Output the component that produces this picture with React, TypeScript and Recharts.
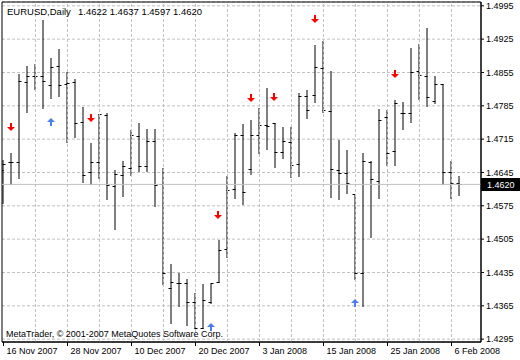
import React from 'react'
import {
  ComposedChart, Bar, Scatter, XAxis, YAxis, CartesianGrid, ReferenceLine, ReferenceArea,
} from 'recharts'

// daily EURUSD bars, 16 Nov 2007 .. 7 Feb 2008
const dates = [
  '16 Nov 2007', '19 Nov 2007', '20 Nov 2007', '21 Nov 2007', '22 Nov 2007', '23 Nov 2007',
  '26 Nov 2007', '27 Nov 2007', '28 Nov 2007', '29 Nov 2007', '30 Nov 2007', '3 Dec 2007',
  '4 Dec 2007', '5 Dec 2007', '6 Dec 2007', '7 Dec 2007', '10 Dec 2007', '11 Dec 2007',
  '12 Dec 2007', '13 Dec 2007', '14 Dec 2007', '17 Dec 2007', '18 Dec 2007', '19 Dec 2007',
  '20 Dec 2007', '21 Dec 2007', '24 Dec 2007', '26 Dec 2007', '27 Dec 2007', '28 Dec 2007',
  '31 Dec 2007', '2 Jan 2008', '3 Jan 2008', '4 Jan 2008', '7 Jan 2008', '8 Jan 2008',
  '9 Jan 2008', '10 Jan 2008', '11 Jan 2008', '14 Jan 2008', '15 Jan 2008', '16 Jan 2008',
  '17 Jan 2008', '18 Jan 2008', '21 Jan 2008', '22 Jan 2008', '23 Jan 2008', '24 Jan 2008',
  '25 Jan 2008', '28 Jan 2008', '29 Jan 2008', '30 Jan 2008', '31 Jan 2008', '1 Feb 2008',
  '4 Feb 2008', '5 Feb 2008', '6 Feb 2008', '7 Feb 2008',
]

const opens = [
  1.4650, 1.4667, 1.4665, 1.4833, 1.4846, 1.4846, 1.4827, 1.4867, 1.4829, 1.4833,
  1.4749, 1.4646, 1.4667, 1.4764, 1.4615, 1.4638, 1.4654, 1.4720, 1.4657, 1.4709,
  1.4619, 1.4402, 1.4411, 1.4411, 1.4373, 1.4318, 1.4373, 1.4415, 1.4484, 1.4610,
  1.4722, 1.4652, 1.4722, 1.4743, 1.4747, 1.4686, 1.4707, 1.4661, 1.4804, 1.4806,
  1.4863, 1.4774, 1.4650, 1.4642, 1.4598, 1.4432, 1.4667, 1.4627, 1.4760, 1.4690,
  1.4768, 1.4768, 1.4858, 1.4846, 1.4793, 1.4829, 1.4646, 1.4622,
]
const highs = [
  1.4671, 1.4686, 1.4852, 1.4869, 1.4873, 1.4966, 1.4886, 1.4905, 1.4856, 1.4842,
  1.4783, 1.4707, 1.4768, 1.4770, 1.4650, 1.4669, 1.4734, 1.4749, 1.4736, 1.4736,
  1.4654, 1.4453, 1.4434, 1.4421, 1.4392, 1.4411, 1.4411, 1.4503, 1.4638, 1.4728,
  1.4747, 1.4755, 1.4781, 1.4823, 1.4749, 1.4741, 1.4741, 1.4812, 1.4818, 1.4913,
  1.4921, 1.4858, 1.4713, 1.4692, 1.4600, 1.4686, 1.4669, 1.4778, 1.4776, 1.4797,
  1.4793, 1.4907, 1.4915, 1.4949, 1.4848, 1.4831, 1.4669, 1.4637,
]
const lows = [
  1.4581, 1.4621, 1.4633, 1.4772, 1.4821, 1.4781, 1.4802, 1.4806, 1.4709, 1.4720,
  1.4625, 1.4621, 1.4633, 1.4589, 1.4526, 1.4596, 1.4640, 1.4648, 1.4648, 1.4575,
  1.4411, 1.4329, 1.4364, 1.4324, 1.4318, 1.4318, 1.4371, 1.4415, 1.4467, 1.4591,
  1.4579, 1.4642, 1.4686, 1.4694, 1.4657, 1.4675, 1.4636, 1.4638, 1.4760, 1.4793,
  1.4772, 1.4593, 1.4589, 1.4602, 1.4421, 1.4364, 1.4509, 1.4591, 1.4661, 1.4661,
  1.4736, 1.4751, 1.4800, 1.4785, 1.4791, 1.4621, 1.4591, 1.4597,
]
const closes = [
  1.4661, 1.4667, 1.4835, 1.4846, 1.4846, 1.4835, 1.4865, 1.4827, 1.4831, 1.4747,
  1.4638, 1.4667, 1.4766, 1.4617, 1.4640, 1.4657, 1.4722, 1.4657, 1.4711, 1.4617,
  1.4432, 1.4413, 1.4411, 1.4371, 1.4318, 1.4377, 1.4411, 1.4482, 1.4608, 1.4722,
  1.4602, 1.4722, 1.4743, 1.4741, 1.4686, 1.4709, 1.4659, 1.4804, 1.4776, 1.4865,
  1.4776, 1.4652, 1.4642, 1.4621, 1.4432, 1.4669, 1.4631, 1.4755, 1.4684, 1.4789,
  1.4768, 1.4854, 1.4848, 1.4802, 1.4829, 1.4646, 1.4621, 1.4620,
]

// signal arrows (bar index + price where the arrow sits)
const redArrowIdx = [1, 11, 27, 31, 34, 39, 49]
const redArrowPrice = [1.4741, 1.4760, 1.4556, 1.4802, 1.4804, 1.4968, 1.4852]
const blueArrowIdx = [6, 26, 44]
const blueArrowPrice = [1.4751, 1.4320, 1.4371]

const priceTicks = [1.4295, 1.4365, 1.4435, 1.4505, 1.4575, 1.4645, 1.4715, 1.4785, 1.4855, 1.4925, 1.4995]
const dateTicks = [0, 8, 16, 24, 32, 40, 48, 56]
const gridIdx = [4, 8, 12, 16, 20, 24, 28, 32, 36, 40, 44, 48, 52, 56]

const symbol = 'EURUSD,Daily'
const copyright = 'MetaTrader, \u00a9 2001-2007 MetaQuotes Software Corp.'

const FONT = '"Liberation Sans", Arial, sans-serif'
const X_DOMAIN: [number, number] = [-0.1875, 59.6875]
const Y_DOMAIN: [number, number] = [1.4289, 1.5003]
const GRID = '#c0c0c0'

const last = dates.length - 1
const lastPrice = closes[last]

const bars = dates.map((d, i) => ({
  i,
  date: d,
  open: opens[i],
  high: highs[i],
  low: lows[i],
  close: closes[i],
  range: [lows[i], highs[i]],
}))
const redArrows = redArrowIdx.map((i, k) => ({ i, price: redArrowPrice[k] }))
const blueArrows = blueArrowIdx.map((i, k) => ({ i, price: blueArrowPrice[k] }))

function OhlcBar(props: any) {
  const { x, y, width, height, payload } = props
  if (!payload) return null
  const cx = x + width / 2
  const top = Math.min(y, y + height)
  const bottom = Math.max(y, y + height)
  const span = payload.high - payload.low
  const at = (p: number) => Math.floor(top + ((payload.high - p) / span) * (bottom - top)) + 0.5
  const yo = at(payload.open)
  const yc = at(payload.close)
  return (
    <g stroke="#000" strokeWidth={1}>
      <line x1={cx} x2={cx} y1={Math.round(top)} y2={Math.round(bottom) + 1} />
      <line x1={cx - 2.5} x2={cx + 0.5} y1={yo} y2={yo} />
      <line x1={cx - 0.5} x2={cx + 2.5} y1={yc} y2={yc} />
    </g>
  )
}

function DownArrow({ cx, cy }: any) {
  const x = Math.round(cx) - 1
  const y = Math.round(cy)
  return (
    <path
      d={`M${x - 1},${y - 4} L${x + 1},${y - 4} L${x + 1},${y} L${x + 4},${y} L${x},${y + 4} L${x - 4},${y} L${x - 1},${y} Z`}
      fill="#ff0000"
    />
  )
}

function UpArrow({ cx, cy }: any) {
  const x = Math.round(cx) - 1
  const y = Math.round(cy)
  return (
    <path
      d={`M${x - 1},${y + 4} L${x + 1},${y + 4} L${x + 1},${y} L${x + 4},${y} L${x},${y - 4} L${x - 4},${y} L${x - 1},${y} Z`}
      fill="#4a7df0"
    />
  )
}

function DateTick({ x, y, payload }: any) {
  return (
    <text x={x + 3} y={y} dy={6} fontSize={9} fontFamily={FONT} fill="#000">
      {dates[payload.value]}
    </text>
  )
}

function PriceTag({ viewBox }: any) {
  if (!viewBox) return null
  const right = viewBox.x + viewBox.width
  const y = Math.round(viewBox.y)
  return (
    <g>
      <rect x={right} y={y - 6} width={39} height={13} fill="#000" />
      <text x={right + 6} y={y + 3.5} fill="#fff" fontSize={9} fontFamily={FONT}>
        {lastPrice.toFixed(4)}
      </text>
    </g>
  )
}

export default function App() {
  const header = [opens[last], highs[last], lows[last], closes[last]].map(v => v.toFixed(4)).join(' ')
  return (
    <div style={{ position: 'absolute', left: 0, top: 0, width: 520, height: 360, background: '#fff' }}>
      <ComposedChart width={520} height={360} data={bars} margin={{ top: 2, right: 0, bottom: 0, left: 2 }}>
        <CartesianGrid vertical={false} stroke={GRID} strokeDasharray="3 2" />
        {gridIdx.map(i => (
          <ReferenceLine key={i} x={i} stroke={GRID} strokeDasharray="3 2" />
        ))}
        <ReferenceLine y={lastPrice} stroke={GRID} label={<PriceTag />} />
        <XAxis
          type="number"
          dataKey="i"
          domain={X_DOMAIN}
          ticks={dateTicks}
          interval={0}
          allowDataOverflow
          height={18}
          axisLine={{ stroke: '#000' }}
          tickLine={{ stroke: '#000' }}
          tickSize={4}
          tick={<DateTick />}
        />
        <YAxis
          orientation="right"
          type="number"
          domain={Y_DOMAIN}
          ticks={priceTicks}
          interval={0}
          allowDataOverflow
          width={39}
          axisLine={{ stroke: '#000' }}
          tickLine={{ stroke: '#000' }}
          tickSize={3}
          tick={{ fontSize: 9, fill: '#000', fontFamily: FONT }}
          tickFormatter={(v: number) => v.toFixed(4)}
        />
        <Bar dataKey="range" barSize={7} shape={<OhlcBar />} isAnimationActive={false} />
        <Scatter data={redArrows} dataKey="price" shape={<DownArrow />} isAnimationActive={false} />
        <Scatter data={blueArrows} dataKey="price" shape={<UpArrow />} isAnimationActive={false} />
        <ReferenceArea x1={X_DOMAIN[0]} x2={X_DOMAIN[1]} y1={Y_DOMAIN[0]} y2={Y_DOMAIN[1]} fill="none" stroke="#000" />
      </ComposedChart>
      <svg width={520} height={360} style={{ position: 'absolute', left: 0, top: 0, pointerEvents: 'none' }}>
        <text x={7} y={15} fontSize={9.5} fontFamily={FONT} fill="#000">{symbol}</text>
        <text x={78} y={15} fontSize={9.5} fontFamily={FONT} fill="#000">{header}</text>
        <text x={6} y={337} fontSize={9} fontFamily={FONT} fill="#000">{copyright}</text>
      </svg>
    </div>
  )
}
